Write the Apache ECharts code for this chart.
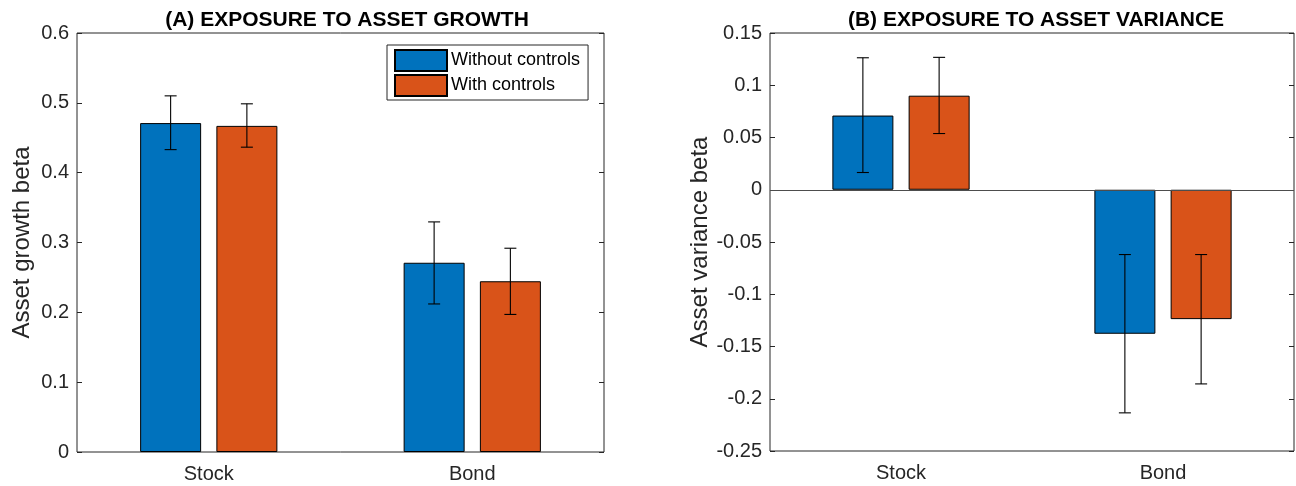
<!DOCTYPE html>
<html>
<head>
<meta charset="utf-8">
<script src="https://cdn.jsdelivr.net/npm/echarts@6/dist/echarts.min.js"></script>
<style>
  html, body { margin: 0; padding: 0; background: #fff; }
  #chart { width: 1296px; height: 486px; }
</style>
</head>
<body>
<div id="chart"></div>
<script>
// 数据
var categories = ['Stock', 'Bond'];
var seriesNames = ['Without controls', 'With controls'];

// (A) asset growth beta
var growthWithout = [0.471, 0.271];
var growthWithoutLo = [0.433, 0.212];
var growthWithoutHi = [0.510, 0.3295];
var growthWith = [0.467, 0.2445];
var growthWithLo = [0.4365, 0.197];
var growthWithHi = [0.4986, 0.2918];

// (B) asset variance beta
var varianceWithout = [0.071, -0.1378];
var varianceWithoutLo = [0.0165, -0.2135];
var varianceWithoutHi = [0.1263, -0.062];
var varianceWith = [0.090, -0.1238];
var varianceWithLo = [0.0538, -0.1858];
var varianceWithHi = [0.1267, -0.062];

var BLUE = '#0072BD', ORANGE = '#D95319', AXIS = '#262626';
var FONT = 'Liberation Sans';
var BAR_W = 61, BAR_GAP = 0.25;
var OFFSET = (BAR_W + BAR_W * BAR_GAP) / 2;

function errData(lo, hi) {
    return categories.map(function (c, i) { return [i, lo[i], hi[i]]; });
}

// 误差线
function errSeries(idx, lo, hi, sign) {
    return {
        type: 'custom',
        xAxisIndex: idx * 2,
        yAxisIndex: idx * 2,
        z: 10,
        silent: true,
        encode: { x: 0, y: [1, 2] },
        data: errData(lo, hi),
        renderItem: function (params, api) {
            var p1 = api.coord([api.value(0), api.value(1)]);
            var p2 = api.coord([api.value(0), api.value(2)]);
            var x = p1[0] + sign * OFFSET;
            var st = { stroke: '#000', lineWidth: 1.1 };
            return {
                type: 'group',
                children: [
                    { type: 'line', shape: { x1: x, y1: p1[1], x2: x, y2: p2[1] }, style: st },
                    { type: 'line', shape: { x1: x - 6, y1: p1[1], x2: x + 6, y2: p1[1] }, style: st },
                    { type: 'line', shape: { x1: x - 6, y1: p2[1], x2: x + 6, y2: p2[1] }, style: st }
                ]
            };
        }
    };
}

function barSeries(idx, name, data, color, extra) {
    var s = {
        name: name,
        type: 'bar',
        xAxisIndex: idx * 2,
        yAxisIndex: idx * 2,
        barWidth: BAR_W,
        barGap: (BAR_GAP * 100) + '%',
        itemStyle: { color: color, borderColor: '#000', borderWidth: 1 },
        data: data
    };
    if (extra) { for (var k in extra) s[k] = extra[k]; }
    return s;
}

function xAxes(grid) {
    return [
        {
            type: 'category', gridIndex: grid, data: categories, position: 'bottom',
            axisLine: { show: false, onZero: false },
            axisTick: { inside: true, alignWithLabel: true, length: 5, lineStyle: { color: AXIS } },
            axisLabel: { color: AXIS, fontSize: 20, fontFamily: FONT, margin: 12 },
            splitLine: { show: false }
        },
        {
            type: 'category', gridIndex: grid, data: categories, position: 'top',
            axisLine: { show: false, onZero: false },
            axisTick: { inside: true, alignWithLabel: true, length: 5, lineStyle: { color: AXIS } },
            axisLabel: { show: false },
            splitLine: { show: false }
        }
    ];
}

function yAxes(grid, min, max, interval, name) {
    return [
        {
            type: 'value', gridIndex: grid, min: min, max: max, interval: interval, position: 'left',
            name: name, nameLocation: 'middle', nameGap: 43,
            nameTextStyle: { color: AXIS, fontSize: 24, fontFamily: FONT },
            axisLine: { show: false },
            axisTick: { show: true, inside: true, length: 5, lineStyle: { color: AXIS } },
            axisLabel: { color: AXIS, fontSize: 20, fontFamily: FONT, margin: 8 },
            splitLine: { show: false }
        },
        {
            type: 'value', gridIndex: grid, min: min, max: max, interval: interval, position: 'right',
            axisLine: { show: false },
            axisTick: { show: true, inside: true, length: 5, lineStyle: { color: AXIS } },
            axisLabel: { show: false },
            splitLine: { show: false }
        }
    ];
}

var chart = echarts.init(document.getElementById('chart'));
var option = {
    animation: false,
    textStyle: { fontFamily: FONT },
    title: [
        {
            text: '(A) EXPOSURE TO ASSET GROWTH',
            left: 342, top: 5, textAlign: 'center',
            textStyle: { color: '#000', fontSize: 21, fontWeight: 'bold', fontFamily: FONT }
        },
        {
            text: '(B) EXPOSURE TO ASSET VARIANCE',
            left: 1031, top: 5, textAlign: 'center',
            textStyle: { color: '#000', fontSize: 21, fontWeight: 'bold', fontFamily: FONT }
        }
    ],
    legend: {
        data: seriesNames,
        orient: 'vertical',
        left: 387, top: 45,
        icon: 'rect',
        itemWidth: 52, itemHeight: 21, itemGap: 2,
        padding: [4, 8, 3, 7],
        borderColor: AXIS, borderWidth: 1,
        selectedMode: false,
        textStyle: { color: '#000', fontSize: 18, fontFamily: FONT, padding: [0, 0, 0, -1] }
    },
    grid: [
        { left: 77, top: 33, width: 527, height: 419, show: true, borderColor: AXIS, borderWidth: 1, backgroundColor: 'transparent' },
        { left: 770, top: 33, width: 524, height: 418, show: true, borderColor: AXIS, borderWidth: 1, backgroundColor: 'transparent' }
    ],
    xAxis: xAxes(0).concat(xAxes(1)),
    yAxis: yAxes(0, 0, 0.6, 0.1, 'Asset growth beta').concat(yAxes(1, -0.25, 0.15, 0.05, 'Asset variance beta')),
    series: [
        barSeries(0, seriesNames[0], growthWithout, BLUE),
        barSeries(0, seriesNames[1], growthWith, ORANGE),
        barSeries(1, seriesNames[0], varianceWithout, BLUE, {
            markLine: {
                silent: true, symbol: 'none', label: { show: false },
                lineStyle: { color: '#4d4d4d', width: 1, type: 'solid' },
                data: [{ yAxis: 0 }]
            }
        }),
        barSeries(1, seriesNames[1], varianceWith, ORANGE),
        errSeries(0, growthWithoutLo, growthWithoutHi, -1),
        errSeries(0, growthWithLo, growthWithHi, 1),
        errSeries(1, varianceWithoutLo, varianceWithoutHi, -1),
        errSeries(1, varianceWithLo, varianceWithHi, 1)
    ]
};
chart.setOption(option);
</script>
</body>
</html>
